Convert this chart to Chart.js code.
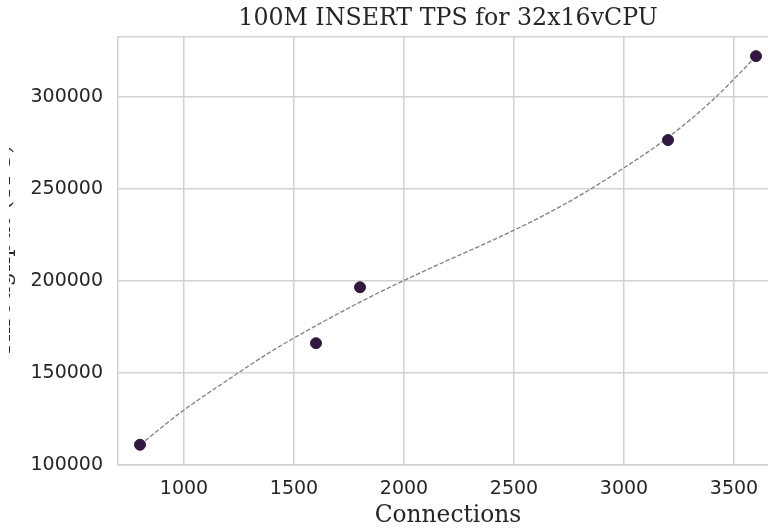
<!DOCTYPE html>
<html>
<head>
<meta charset="utf-8">
<script src="https://cdn.jsdelivr.net/npm/chart.js@4/dist/chart.umd.min.js"></script>
<style>
  html, body { margin: 0; padding: 0; background: #ffffff; }
  #wrap { position: relative; width: 768px; height: 529px; overflow: hidden; background: #fff; }
  #clip { position: absolute; left: 9px; top: 0; width: 759px; height: 529px; overflow: hidden; }
  #c { position: absolute; left: -19px; top: 0; }
</style>
</head>
<body>
<div id="wrap"><div id="clip"><canvas id="c" width="800" height="529"></canvas></div></div>
<script>
// Measured points
const connections = [800, 1600, 1800, 3200, 3600];
const throughput = [111000, 166200, 196600, 276600, 322200];

// Fitted trend curve
const fitX = [800, 1000, 1200, 1400, 1600, 1800, 2000, 2200, 2400, 2600, 2800, 3000, 3200, 3400, 3600];
const fitY = [111000, 129900, 146300, 162000, 175700, 188500, 200300, 211300, 222000, 233500, 246500, 261500, 278000, 298000, 322000];

// Tick labels
const xTicks = [1000, 1500, 2000, 2500, 3000, 3500];
const yTicks = [100000, 150000, 200000, 250000, 300000];

const pts = connections.map((x, i) => ({ x: x, y: throughput[i] }));
const fit = fitX.map((x, i) => ({ x: x, y: fitY[i] }));

const gridColor = '#d2d2d2';
const textColor = '#262626';

new Chart(document.getElementById('c'), {
  type: 'scatter',
  data: {
    datasets: [
      {
        label: 'measured',
        data: pts,
        backgroundColor: '#32173e',
        borderColor: '#32173e',
        pointRadius: 5.5,
        pointHoverRadius: 5.5,
        showLine: false
      },
      {
        label: 'fit',
        type: 'line',
        data: fit,
        borderColor: '#808080',
        borderWidth: 1.3,
        borderDash: [4.5, 2],
        pointRadius: 0,
        fill: false,
        tension: 0.4,
        cubicInterpolationMode: 'monotone'
      }
    ]
  },
  options: {
    responsive: false,
    animation: false,
    events: [],
    layout: { padding: { left: 0, right: 12, top: 0, bottom: 0 } },
    plugins: {
      legend: { display: false },
      tooltip: { enabled: false },
      title: { display: false }
    },
    scales: {
      top: {
        type: 'linear',
        axis: 'x',
        position: 'top',
        min: 700,
        max: 3700,
        afterFit: (s) => { s.height = 37; },
        grid: { display: false, drawTicks: false },
        border: { display: true, color: gridColor, width: 1.5 },
        ticks: { display: false },
        title: {
          display: true,
          text: '100M INSERT TPS for 32x16vCPU',
          color: textColor,
          font: { family: 'DejaVu Serif', size: 23.7, lineHeight: 1.2 },
          padding: { top: 4.3, bottom: 0 }
        }
      },
      x: {
        type: 'linear',
        position: 'bottom',
        min: 700,
        max: 3700,
        afterBuildTicks: (s) => { s.ticks = xTicks.map(v => ({ value: v })); },
        afterFit: (s) => { s.height = 64; },
        grid: { color: gridColor, lineWidth: 1.5, drawTicks: false },
        border: { color: gridColor, width: 1.5 },
        ticks: {
          color: textColor,
          padding: 13,
          font: { family: 'DejaVu Sans', size: 19 },
          callback: (v) => String(v)
        },
        title: {
          display: true,
          text: 'Connections',
          color: textColor,
          font: { family: 'DejaVu Serif', size: 23.3, lineHeight: 1.125 },
          padding: { top: 0, bottom: 0 }
        }
      },
      y: {
        type: 'linear',
        min: 100000,
        max: 332600,
        afterBuildTicks: (s) => { s.ticks = yTicks.map(v => ({ value: v })); },
        afterFit: (s) => { s.width = 128; },
        grid: { color: gridColor, lineWidth: 1.5, drawTicks: false },
        border: { color: gridColor, width: 1.5 },
        ticks: {
          color: textColor,
          padding: 15,
          font: { family: 'DejaVu Sans', size: 19 },
          callback: (v) => String(v)
        },
        title: {
          display: true,
          text: 'Throughput (TPS)',
          color: textColor,
          font: { family: 'DejaVu Serif', size: 23.3, lineHeight: 1.2 },
          padding: { top: 0, bottom: 0 }
        }
      }
    }
  }
});
</script>
</body>
</html>
